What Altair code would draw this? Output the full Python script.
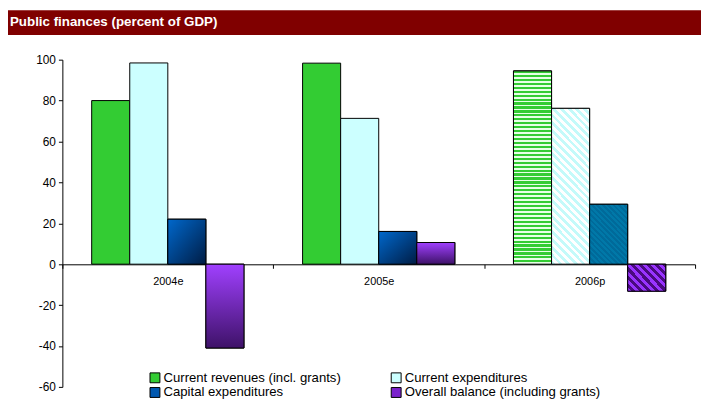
import altair as alt
import pandas as pd

YEARS = ["2004e", "2005e", "2006p"]
SERIES = [
    "Current revenues (incl. grants)",
    "Current expenditures",
    "Capital expenditures",
    "Overall balance (including grants)",
]
REVENUES = [80.0, 98.3, 94.5]
CUR_EXP = [98.4, 71.3, 76.2]
CAP_EXP = [22.0, 16.0, 29.3]
BALANCE = [-41.0, 10.6, -13.2]
Y_TICKS = [-60, -40, -20, 0, 20, 40, 60, 80, 100]
TITLE = "Public finances (percent of GDP)"

FONT = "Liberation Sans"
VALUES = [REVENUES, CUR_EXP, CAP_EXP, BALANCE]
rows = []
for s, vals in zip(SERIES, VALUES):
    for y, v in zip(YEARS, vals):
        rows.append({"year": y, "series": s, "value": v})
df = pd.DataFrame(rows)

W, H = 640, 331
Y_MIN, Y_MAX = -60, 100
PX = H / (Y_MAX - Y_MIN)


def grad(stops, x1=0, y1=0, x2=0, y2=1):
    return alt.LinearGradient(
        gradient="linear",
        stops=[alt.GradientStop(offset=o, color=c) for o, c in stops],
        x1=x1, y1=y1, x2=x2, y2=y2,
    )


def stripes(c1, c2, n, frac, x1, y1, x2, y2):
    st = []
    for i in range(n):
        a = i / n
        b = (i + frac) / n
        c = (i + 1) / n
        st += [(a, c1), (b, c1), (b, c2), (c, c2)]
    return grad(st, x1, y1, x2, y2)


def diag(c1, c2, period, frac, w, h):
    # 45-degree "\" stripes in pixel space for a w x h box
    import math
    L = math.hypot(w, h)
    ux, uy = w / L, -h / L
    d = (w + h) / L
    n = max(1, round((w + h) / math.sqrt(2) / period))
    return stripes(c1, c2, n, frac, 0, 1, ux * d, 1 + uy * d)


BAR_W = 39
blue_grad = grad([(0, "#0068CC"), (1, "#001C44")], 0, 0, 1, 1)
purple_grad = grad([(0, "#A040FF"), (1, "#3E1268")], 0, 0, 0, 1)
green_str = stripes("#33CC33", "#E6FFE6", round(REVENUES[2] * PX / 4), 0.55, 0, 0, 0, 1)
cyan_str = diag("#C4FAFA", "#FFFFFF", 5.5, 0.5, BAR_W, CUR_EXP[2] * PX)
blue_str = diag("#006A9A", "#0078A8", 4, 0.5, BAR_W, CAP_EXP[2] * PX)
purple_str = diag("#9933FF", "#4A0A80", 5.7, 0.5, BAR_W, abs(BALANCE[2]) * PX)

base = alt.Chart(df).encode(
    x=alt.X(
        "year:N",
        scale=alt.Scale(domain=YEARS, paddingInner=0, paddingOuter=0),
        axis=alt.Axis(
            title=None, orient="bottom", offset=-round(-Y_MIN * PX), tickBand="extent",
            labelAngle=0, domainColor="black", tickColor="black", tickSize=4,
            labelPadding=7, labelFontSize=11, labelFont=FONT, labelColor="black",
        ),
    ),
    xOffset=alt.XOffset(
        "series:N", scale=alt.Scale(domain=SERIES, paddingInner=0, paddingOuter=0.77)
    ),
    y=alt.Y(
        "value:Q",
        scale=alt.Scale(domain=[Y_MIN, Y_MAX], nice=False, zero=False),
        axis=alt.Axis(
            title=None, values=Y_TICKS, grid=False, labelExpr="'' + datum.value",
            domainColor="black", tickColor="black", tickSize=4, labelPadding=3,
            labelFontSize=12, labelFont=FONT, labelColor="black",
        ),
    ),
)

bars = base.mark_bar(stroke="black", strokeWidth=1).encode(
    color=alt.Color(
        "series:N",
        scale=alt.Scale(domain=SERIES, range=["#33CC33", "#CCFFFF", "#0058B0", "#7A22CC"]),
        legend=alt.Legend(
            title=None, orient="none", legendX=87, legendY=315, columns=2,
            direction="horizontal",
            columnPadding=48, rowPadding=0, symbolType="square", symbolSize=100,
            symbolStrokeColor="black", symbolStrokeWidth=1, labelFontSize=13.3,
            labelFont=FONT, labelColor="black", labelLimit=400, labelOffset=2,
            padding=0,
        ),
    )
)


def overlay(series, years, fill):
    return base.mark_bar(fill=fill, stroke="black", strokeWidth=1).transform_filter(
        alt.FieldEqualPredicate(field="series", equal=series)
    ).transform_filter(alt.FieldOneOfPredicate(field="year", oneOf=years))


layers = [
    bars,
    overlay(SERIES[2], YEARS[:2], blue_grad),
    overlay(SERIES[3], YEARS[:2], purple_grad),
    overlay(SERIES[0], YEARS[2:], green_str),
    overlay(SERIES[1], YEARS[2:], cyan_str),
    overlay(SERIES[2], YEARS[2:], blue_str),
    overlay(SERIES[3], YEARS[2:], purple_str),
]

head = alt.Chart(pd.DataFrame({"t": [TITLE]}))
band = head.mark_rect(color="#800000").encode(
    x=alt.value(-55), x2=alt.value(W + 6), y=alt.value(-50), y2=alt.value(-25)
)
title = head.mark_text(
    color="white", fontWeight="bold", fontSize=13.5, font=FONT, align="left", baseline="middle"
).encode(text="t:N", x=alt.value(-53), y=alt.value(-38))

chart = alt.layer(band, title, *layers).properties(
    width=W, height=H,
    autosize=alt.AutoSizeParams(type="none"),
    padding={"left": 55, "top": 50, "right": 6, "bottom": 12},
).configure_view(stroke=None)

chart.save("out.html", embed_options={"renderer": "svg", "actions": False})
